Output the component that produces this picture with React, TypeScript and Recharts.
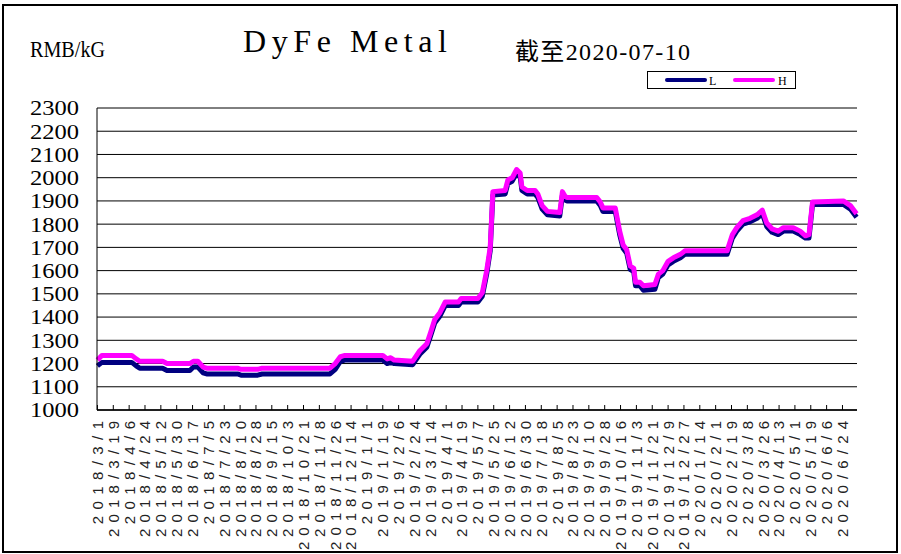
import { LineChart, Line, XAxis, YAxis, CartesianGrid } from "recharts";

const dates = [
  "2018/3/1", "2018/3/6", "2018/4/9", "2018/4/14", "2018/4/18", "2018/5/14", "2018/5/19",
  "2018/6/14", "2018/6/18", "2018/6/23", "2018/6/29", "2018/7/3", "2018/8/7", "2018/8/11",
  "2018/8/30", "2018/9/4", "2018/11/20", "2018/11/26", "2018/12/2", "2018/12/7",
  "2019/1/19", "2019/1/24", "2019/1/28", "2019/2/1", "2019/2/22", "2019/3/2", "2019/3/10",
  "2019/3/14", "2019/3/19", "2019/3/25", "2019/3/31", "2019/4/15", "2019/4/18", "2019/5/7",
  "2019/5/12", "2019/5/17", "2019/5/21", "2019/5/24", "2019/6/7", "2019/6/10", "2019/6/15",
  "2019/6/20", "2019/6/24", "2019/6/26", "2019/7/2", "2019/7/11", "2019/7/14", "2019/7/19",
  "2019/7/25", "2019/8/8", "2019/8/11", "2019/8/14", "2019/8/16", "2019/9/19", "2019/9/23",
  "2019/9/26", "2019/10/10", "2019/10/15", "2019/10/19", "2019/10/23", "2019/10/27",
  "2019/10/31", "2019/11/2", "2019/11/7", "2019/11/11", "2019/11/24", "2019/11/28",
  "2019/12/3", "2019/12/9", "2019/12/15", "2019/12/23", "2019/12/28", "2020/2/14",
  "2020/2/20", "2020/2/25", "2020/3/3", "2020/3/11", "2020/3/19", "2020/3/25", "2020/3/30",
  "2020/4/5", "2020/4/12", "2020/4/18", "2020/4/29", "2020/5/7", "2020/5/13", "2020/5/17",
  "2020/5/21", "2020/6/25", "2020/7/3", "2020/7/10",
];

const lowPrices = [
  1190, 1205, 1205, 1190, 1180, 1180, 1170, 1170, 1185, 1185, 1160, 1155, 1155, 1150,
  1150, 1155, 1155, 1175, 1210, 1215, 1215, 1200, 1205, 1200, 1195, 1240, 1270,
  1315, 1375, 1405, 1450, 1450, 1465, 1465, 1490, 1585, 1685, 1925, 1930, 1975, 1985,
  2020, 2005, 1945, 1930, 1930, 1915, 1865, 1840, 1835, 1925, 1905, 1900, 1900, 1880,
  1855, 1855, 1755, 1695, 1675, 1605, 1595, 1535, 1535, 1515, 1520, 1570,
  1585, 1625, 1640, 1655, 1670, 1670, 1740, 1770, 1800, 1810, 1825, 1845, 1790,
  1765, 1755, 1770, 1770, 1755, 1740, 1740, 1885, 1885, 1865, 1830,
];

const highPrices = [
  1215, 1235, 1235, 1220, 1210, 1210, 1200, 1200, 1210, 1210, 1185, 1180, 1180, 1175,
  1175, 1180, 1180, 1200, 1230, 1235, 1235, 1220, 1225, 1215, 1210, 1255, 1285,
  1330, 1390, 1420, 1465, 1465, 1480, 1480, 1505, 1600, 1700, 1940, 1945, 1990, 2000,
  2035, 2020, 1960, 1945, 1945, 1930, 1880, 1855, 1850, 1940, 1920, 1915, 1915, 1895,
  1870, 1870, 1770, 1710, 1690, 1620, 1610, 1550, 1550, 1535, 1540, 1585,
  1600, 1640, 1655, 1670, 1685, 1685, 1755, 1785, 1815, 1825, 1840, 1860, 1805,
  1780, 1770, 1785, 1785, 1770, 1750, 1755, 1895, 1900, 1880, 1845,
];

const tickLabels = [
  "2018/3/1", "2018/3/19", "2018/4/6", "2018/4/24", "2018/5/12", "2018/5/30", "2018/6/17",
  "2018/7/5", "2018/7/23", "2018/8/10", "2018/8/28", "2018/9/15", "2018/10/3", "2018/10/21",
  "2018/11/8", "2018/11/26", "2018/12/14", "2019/1/1", "2019/1/19", "2019/2/6", "2019/2/24",
  "2019/3/14", "2019/4/1", "2019/4/19", "2019/5/7", "2019/5/25", "2019/6/12", "2019/6/30",
  "2019/7/18", "2019/8/5", "2019/8/23", "2019/9/10", "2019/9/28", "2019/10/16", "2019/11/3",
  "2019/11/21", "2019/12/9", "2019/12/27", "2020/1/14", "2020/2/1", "2020/2/19", "2020/3/8",
  "2020/3/26", "2020/4/13", "2020/5/1", "2020/5/19", "2020/6/6", "2020/6/24",
];

const yTicks = [1000, 1100, 1200, 1300, 1400, 1500, 1600, 1700, 1800, 1900, 2000, 2100, 2200, 2300];

const START = Date.UTC(2018, 2, 1);
const dayIndex = (s: string) => {
  const [y, m, d] = s.split("/").map(Number);
  return Math.round((Date.UTC(y, m - 1, d) - START) / 86400000);
};

const data = dates.map((d, i) => ({ day: dayIndex(d), L: lowPrices[i], H: highPrices[i] }));
const xTicks = tickLabels.map(dayIndex);
const labelByDay = new Map(tickLabels.map((t) => [dayIndex(t), t]));
const lastDay = dayIndex(dates[dates.length - 1]);

const serif = "'Liberation Serif', 'Times New Roman', serif";

// rotated date labels, read bottom-to-top, top end just under the axis
function DateTick({ x, y, payload }: any) {
  const label = labelByDay.get(payload.value) ?? "";
  const len = label.length * 12.9;
  const by = y + 11 + len;
  return (
    <g>
      <line x1={x} y1={y} x2={x} y2={y - 5} stroke="#000" />
      <text
        x={x}
        y={by}
        transform={`rotate(-90 ${x} ${by})`}
        textAnchor="start"
        dy="0.36em"
        fontSize={15}
        fontFamily="'Liberation Sans', Arial, sans-serif"
        fill="#222"
        textLength={len}
        lengthAdjust="spacing"
      >
        {label}
      </text>
    </g>
  );
}

function PriceTick({ x, y, payload }: any) {
  return (
    <text
      x={x}
      y={y}
      textAnchor="end"
      dy="0.35em"
      fontSize={21}
      fontFamily={serif}
      fill="#000"
      textLength={49}
      lengthAdjust="spacingAndGlyphs"
    >
      {payload.value}
    </text>
  );
}

export default function App() {
  return (
    <div style={{ position: "fixed", left: 0, top: 0, width: 901, height: 554, background: "#fff" }}>
      <div
        style={{
          position: "absolute", left: 2, top: 4, width: 896, height: 549,
          border: "2px solid #000", boxSizing: "border-box",
        }}
      />
      <svg width={901} height={110} style={{ position: "absolute", left: 0, top: 0 }}>
        <text x={30} y={57} fontFamily={serif} fontSize={24} textLength={75} lengthAdjust="spacingAndGlyphs">
          RMB/kG
        </text>
        <text x={243} y={52} fontFamily={serif} fontSize={32} textLength={204} lengthAdjust="spacing">
          DyFe Metal
        </text>
        <text
          x={515} y={60} fontSize={24} textLength={175} lengthAdjust="spacing"
          fontFamily={`${serif}, 'Noto Sans CJK SC'`}
        >
          截至2020-07-10
        </text>
        <rect x={647.5} y={71.5} width={148} height={17} fill="#fff" stroke="#000" />
        <line x1={667} y1={80} x2={705} y2={80} stroke="#000080" strokeWidth={4} strokeLinecap="round" />
        <text x={709} y={85} fontFamily={serif} fontSize={12}>L</text>
        <line x1={735} y1={80} x2={773} y2={80} stroke="#FF00FF" strokeWidth={4} strokeLinecap="round" />
        <text x={778} y={85} fontFamily={serif} fontSize={12}>H</text>
      </svg>
      <div style={{ position: "absolute", left: 0, top: 0 }}>
        <LineChart width={901} height={554} data={data} margin={{ top: 108, right: 44, bottom: 0, left: 0 }}>
          <CartesianGrid vertical={false} stroke="#000" strokeOpacity={1} />
          <XAxis
            dataKey="day"
            type="number"
            domain={[-0.5, lastDay + 0.5]}
            ticks={xTicks}
            interval={0}
            height={144}
            tickSize={0}
            tickMargin={0}
            tickLine={false}
            axisLine={{ stroke: "#000", strokeWidth: 1.5 }}
            tick={<DateTick />}
          />
          <YAxis
            domain={[1000, 2300]}
            ticks={yTicks}
            interval={0}
            width={97}
            tickSize={0}
            tickMargin={18}
            tickLine={false}
            axisLine={{ stroke: "#000" }}
            tick={<PriceTick />}
          />
          <YAxis
            yAxisId="frame"
            orientation="right"
            width={0}
            tick={false}
            tickLine={false}
            axisLine={{ stroke: "#808080", strokeWidth: 2 }}
          />
          <Line
            dataKey="L"
            type="linear"
            stroke="#000080"
            strokeWidth={5}
            strokeLinejoin="round"
            dot={false}
            isAnimationActive={false}
          />
          <Line
            dataKey="H"
            type="linear"
            stroke="#FF00FF"
            strokeWidth={5}
            strokeLinejoin="round"
            dot={false}
            isAnimationActive={false}
          />
        </LineChart>
      </div>
    </div>
  );
}
